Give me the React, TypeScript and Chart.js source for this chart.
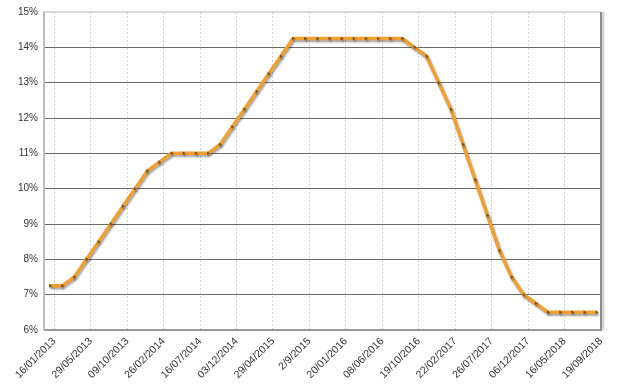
import React, { useEffect, useRef } from "react";
import { Chart, registerables } from "chart.js";

Chart.register(...registerables);

const meetingDates = [
  "16/01/2013", "06/03/2013", "17/04/2013", "29/05/2013", "10/07/2013", "28/08/2013",
  "09/10/2013", "27/11/2013", "15/01/2014", "26/02/2014", "02/04/2014", "28/05/2014",
  "16/07/2014", "03/09/2014", "29/10/2014", "03/12/2014", "21/01/2015", "04/03/2015",
  "29/04/2015", "03/06/2015", "29/07/2015", "2/9/2015", "21/10/2015", "25/11/2015",
  "20/01/2016", "02/03/2016", "27/04/2016", "08/06/2016", "20/07/2016", "31/08/2016",
  "19/10/2016", "30/11/2016", "11/01/2017", "22/02/2017", "12/04/2017", "31/05/2017",
  "26/07/2017", "06/09/2017", "25/10/2017", "06/12/2017", "07/02/2018", "21/03/2018",
  "16/05/2018", "20/06/2018", "01/08/2018", "19/09/2018",
];

const rates = [
  7.25, 7.25, 7.5, 8.0, 8.5, 9.0,
  9.5, 10.0, 10.5, 10.75, 11.0, 11.0,
  11.0, 11.0, 11.25, 11.75, 12.25, 12.75,
  13.25, 13.75, 14.25, 14.25, 14.25, 14.25,
  14.25, 14.25, 14.25, 14.25, 14.25, 14.25,
  14.0, 13.75, 13.0, 12.25, 11.25, 10.25,
  9.25, 8.25, 7.5, 7.0, 6.75, 6.5,
  6.5, 6.5, 6.5, 6.5,
];

const labelIndices = [0, 3, 6, 9, 12, 15, 18, 21, 24, 27, 30, 33, 36, 39, 42, 45];
const yTicks = [6, 7, 8, 9, 10, 11, 12, 13, 14, 15];

const TICK_SHIFT = 0.35;

const frameAndShadow = {
  id: "frameAndShadow",
  beforeDatasetDraw(chart: any) {
    const ctx = chart.ctx;
    ctx.save();
    ctx.shadowColor = "rgba(0,0,0,0.35)";
    ctx.shadowOffsetX = 1;
    ctx.shadowOffsetY = 2;
    ctx.shadowBlur = 2;
  },
  afterDatasetDraw(chart: any) {
    chart.ctx.restore();
  },
  afterDraw(chart: any) {
    const { ctx, chartArea: a } = chart;
    ctx.save();
    ctx.lineWidth = 1.5;
    ctx.strokeStyle = "#cccccc";
    ctx.beginPath();
    ctx.moveTo(a.left, a.top);
    ctx.lineTo(a.right, a.top);
    ctx.stroke();
    ctx.strokeStyle = "#8c8c8c";
    ctx.lineWidth = 2;
    ctx.shadowColor = "rgba(0,0,0,0.25)";
    ctx.shadowOffsetX = 2;
    ctx.shadowBlur = 2;
    ctx.beginPath();
    ctx.moveTo(a.right, a.top);
    ctx.lineTo(a.right, a.bottom);
    ctx.stroke();
    ctx.restore();
  },
};

export default function App() {
  const ref = useRef<HTMLCanvasElement | null>(null);

  useEffect(() => {
    document.body.style.margin = "0";
    const canvas = ref.current;
    if (!canvas) return;
    const chart = new Chart(canvas, {
      type: "line",
      data: {
        datasets: [
          {
            data: rates.map((v, i) => ({ x: i, y: v })),
            borderColor: "#f0a030",
            borderWidth: 3.5,
            pointStyle: "triangle",
            rotation: 90,
            pointRadius: 2,
            pointBackgroundColor: "#6e4a1c",
            pointBorderColor: "#6e4a1c",
            pointBorderWidth: 0,
            tension: 0,
          },
        ],
      },
      options: {
        animation: false,
        responsive: false,
        maintainAspectRatio: false,
        layout: { padding: { top: 7, right: 17, left: 0, bottom: 0 } },
        plugins: { legend: { display: false }, tooltip: { enabled: false } },
        scales: {
          x: {
            type: "linear",
            min: -0.5,
            max: 45 + TICK_SHIFT,
            afterBuildTicks(scale: any) {
              scale.ticks = labelIndices.map((i) => ({ value: i + TICK_SHIFT }));
            },
            afterFit(scale: any) {
              scale.height = 62;
            },
            ticks: {
              autoSkip: false,
              minRotation: 45,
              maxRotation: 45,
              padding: 5,
              color: "#333333",
              font: { family: "Liberation Sans", size: 10.5 },
              callback: (v: any) => meetingDates[Math.round(Number(v) - TICK_SHIFT)] ?? "",
            },
            grid: {
              color: "#d2d2d2",
              lineWidth: 1,
              drawTicks: false,
              tickLength: 0,
            },
            border: { display: true, color: "#999999", width: 2, dash: [2, 2] },
          },
          y: {
            type: "linear",
            min: 6,
            max: 15,
            afterBuildTicks(scale: any) {
              scale.ticks = yTicks.map((v) => ({ value: v }));
            },
            afterFit(scale: any) {
              scale.width = 44;
            },
            ticks: {
              padding: 6,
              color: "#333333",
              font: { family: "Liberation Sans", size: 10 },
              callback: (v: any) => v + "%",
            },
            grid: {
              color: (c: any) => (c.tick && c.tick.value === 15 ? "rgba(0,0,0,0)" : "#6a6a6a"),
              lineWidth: 1,
              drawTicks: false,
            },
            border: { display: true, color: "#bdbdbd", width: 2 },
          },
        },
      },
      plugins: [frameAndShadow],
    });
    return () => chart.destroy();
  }, []);

  return <canvas ref={ref} width={618} height={392} style={{ display: "block" }} />;
}
